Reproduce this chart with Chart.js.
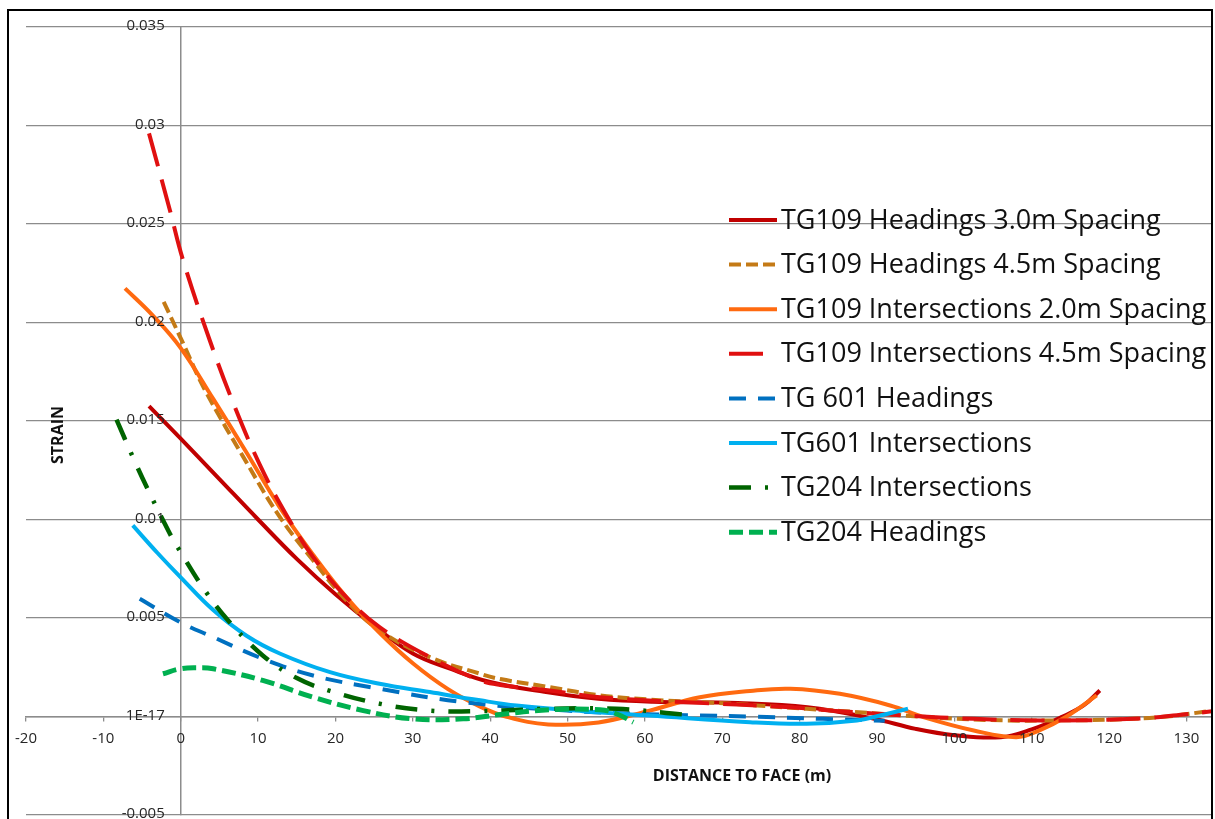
<!DOCTYPE html>
<html>
<head>
<meta charset="utf-8">
<script src="https://cdn.jsdelivr.net/npm/chart.js@4.4.0/dist/chart.umd.min.js"></script>
<style>
  html, body { margin: 0; padding: 0; background: #fff; }
  #wrap { width: 1215px; height: 819px; position: relative; }
</style>
</head>
<body>
<div id="wrap"><canvas id="strainChart" width="1215" height="819"></canvas></div>
<script>
// series
const seriesNames = [
    'TG109 Headings 3.0m Spacing',
    'TG109 Headings 4.5m Spacing',
    'TG109 Intersections 2.0m Spacing',
    'TG109 Intersections 4.5m Spacing',
    'TG 601 Headings',
    'TG601 Intersections',
    'TG204 Intersections',
    'TG204 Headings'
];

const tg109Head30X = [-4.1, 0, 5, 10, 15, 20, 25, 30, 35, 40, 47, 54, 61, 72, 81, 89.5, 95, 100, 106, 110, 114, 116.7, 118.8];
const tg109Head30Y = [0.01575, 0.0141, 0.01205, 0.01, 0.008, 0.0062, 0.0046, 0.0032, 0.0024, 0.00175, 0.00125, 0.0009, 0.00075, 0.00068, 0.00047, -0.0001, -0.00063, -0.00095, -0.00105, -0.00065, 0, 0.00056, 0.00132];

const tg109Head45X = [-2.2, 0.3, 3.1, 8.5, 12.8, 17.1, 21.4, 25.7, 32.2, 38.7, 41.3, 47.7, 54.2, 60.6, 71.4, 80.9, 89.5, 98.1, 106.8, 112.4, 121, 127.5, 133.3];
const tg109Head45Y = [0.02105, 0.01895, 0.0166, 0.0129, 0.01013, 0.00793, 0.00589, 0.00437, 0.00301, 0.00217, 0.0019, 0.00149, 0.00107, 0.00086, 0.00064, 0.00039, 0.00017, -0.00007, -0.0002, -0.0002, -0.00015, 0, 0.0003];

const tg109Int20X = [-7.2, -3.6, 0, 4.2, 8.5, 12.8, 17.1, 21.4, 25.7, 30, 34.5, 38.7, 42, 47.5, 54, 60.6, 67.1, 73.6, 78.8, 85.2, 91.7, 96, 102.5, 108, 111, 114.5, 118.4];
const tg109Int20Y = [0.02173, 0.02035, 0.0187, 0.01612, 0.0134, 0.01062, 0.00822, 0.00606, 0.00425, 0.0027, 0.0014, 0.0005, 0, -0.0004, -0.0003, 0.0003, 0.00098, 0.0013, 0.00141, 0.00115, 0.00056, -0.00003, -0.00071, -0.00105, -0.0007, 0, 0.00107];

const tg109Int45X = [-4.1, -1.4, 0.3, 3.75, 6.8, 10.2, 13.7, 17.1, 21.4, 25.7, 32.2, 38.7, 41.3, 47.7, 54.2, 65, 78.8, 85.2, 93.8, 102.5, 111.1, 123.2, 129.6, 133.3];
const tg109Int45Y = [0.0296, 0.0257, 0.02317, 0.0191, 0.0159, 0.0128, 0.0102, 0.0081, 0.00606, 0.00454, 0.00301, 0.00183, 0.0016, 0.00132, 0.00098, 0.00073, 0.00047, 0.00027, 0.00005, -0.00012, -0.0002, -0.00012, 0.0001, 0.00027];

const tg601HeadX = [-5.3, -0.1, 4.2, 10.6, 17.1, 25.7, 36.5, 49.9, 60, 67.1, 73.6, 83, 91];
const tg601HeadY = [0.00598, 0.00479, 0.00403, 0.00293, 0.00208, 0.00141, 0.00073, 0.0003, 0.00012, 0.00005, 0, -0.00012, -0.00022];

const tg601IntX = [-6.2, -3, -0.1, 4.2, 8.5, 12.8, 19.3, 25.7, 32.2, 38.7, 43.4, 52, 60.6, 73.6, 80.9, 87.4, 90.4, 94];
const tg601IntY = [0.0097, 0.0083, 0.0071, 0.0054, 0.0041, 0.0032, 0.00225, 0.00166, 0.00124, 0.00082, 0.00056, 0.00027, 0.00005, -0.00029, -0.00037, -0.0002, 0.00005, 0.0004];

const tg204IntX = [-8.3, -6.2, -4.4, -1.4, -0.1, 3.3, 6.3, 10.6, 15, 19.3, 25.7, 32.2, 38.7, 47.7, 56.3, 65];
const tg204IntY = [0.01507, 0.01318, 0.01165, 0.00928, 0.0084, 0.0063, 0.0048, 0.0031, 0.00195, 0.0013, 0.00065, 0.0003, 0.00027, 0.00039, 0.00039, 0.0001];

const tg204HeadX = [-2.3, -0.1, 2, 4.2, 10.6, 17.1, 23.6, 30, 36.5, 41.3, 47.7, 54.2, 56.3, 58.5];
const tg204HeadY = [0.00217, 0.00242, 0.00247, 0.00242, 0.00183, 0.00098, 0.0003, -0.00012, -0.00012, 0.0001, 0.00034, 0.00034, 0.00014, -0.00029];

const yTickLabels = ['-0.005', '1E-17', '0.005', '0.01', '0.015', '0.02', '0.025', '0.03', '0.035'];

const seriesX = [tg109Head30X, tg109Head45X, tg109Int20X, tg109Int45X, tg601HeadX, tg601IntX, tg204IntX, tg204HeadX];
const seriesY = [tg109Head30Y, tg109Head45Y, tg109Int20Y, tg109Int45Y, tg601HeadY, tg601IntY, tg204IntY, tg204HeadY];

// styles
const lineColors = ['#C00000', '#C47A16', '#FF6A10', '#E01010', '#0070C0', '#00B0F0', '#006400', '#00B050'];
const lineDashes = [[], [12, 5], [], [34, 14], [17, 12], [], [22, 14, 3, 14], [14, 6]];
const lineWidths = [4, 4, 4, 4, 4, 4, 4.5, 5];

const gridGrey = '#8c8c8c';
const tickFont = '15px "Open Sans"';

const datasets = seriesNames.map((name, i) => ({
    label: name,
    data: seriesX[i].map((x, j) => ({x: x, y: seriesY[i][j]})),
    borderColor: lineColors[i],
    borderDash: lineDashes[i],
    borderWidth: lineWidths[i],
    pointRadius: 0,
    fill: false,
    tension: 0.4,
    order: seriesNames.length - i
}));

const framePlugin = {
    id: 'framePlugin',
    beforeDraw(chart) {
        const c = chart.ctx;
        c.save();
        c.fillStyle = '#fff';
        c.fillRect(0, 0, chart.width, chart.height);
        c.restore();
    },
    afterDraw(chart) {
        const c = chart.ctx;
        const xs = chart.scales.x, ys = chart.scales.y;
        c.save();
        // outer frame
        c.strokeStyle = '#000';
        c.lineWidth = 2;
        c.strokeRect(8, 10, 1204, 830);

        // tick labels next to the crossing axes
        c.fillStyle = '#262626';
        c.font = tickFont;
        c.textBaseline = 'middle';
        c.textAlign = 'right';
        const axisX = xs.getPixelForValue(0);
        ys.ticks.forEach((t, i) => {
            c.fillText(yTickLabels[i], axisX - 16, ys.getPixelForValue(t.value) - 1);
        });
        c.textAlign = 'center';
        const axisY = ys.getPixelForValue(0);
        xs.ticks.forEach(t => {
            c.fillText(String(t.value), xs.getPixelForValue(t.value), axisY + 22);
        });

        // axis titles
        c.fillStyle = '#111';
        c.font = 'bold 16px "Open Sans"';
        c.fillText('DISTANCE TO FACE (m)', 742, 776);
        c.save();
        c.translate(58, 435);
        c.rotate(-Math.PI / 2);
        c.fillText('STRAIN', 0, 0);
        c.restore();

        // legend inside plot
        const left = 729, top = 220, rowGap = 44.6, sampleLen = 48;
        c.textAlign = 'left';
        c.font = '27px "Open Sans"';
        chart.data.datasets.forEach((ds, i) => {
            const y = top + i * rowGap;
            c.beginPath();
            c.strokeStyle = ds.borderColor;
            c.lineWidth = ds.borderWidth;
            c.setLineDash(ds.borderDash);
            c.moveTo(left, y);
            c.lineTo(left + sampleLen, y);
            c.stroke();
            c.setLineDash([]);
            c.fillStyle = '#111';
            c.fillText(ds.label, 781, y + 1);
        });
        c.restore();
    }
};

Chart.defaults.font.family = '"Open Sans", sans-serif';

new Chart(document.getElementById('strainChart'), {
    type: 'line',
    data: {datasets: datasets},
    options: {
        responsive: false,
        animation: false,
        devicePixelRatio: 1,
        layout: {padding: {left: 26, top: 27, right: 3, bottom: 4}},
        scales: {
            x: {
                type: 'linear',
                min: -20,
                max: 133.3,
                position: {y: 0},
                ticks: {stepSize: 10, includeBounds: false, autoSkip: false, maxRotation: 0, display: false},
                grid: {drawOnChartArea: false, drawTicks: true, tickLength: 4, color: gridGrey, lineWidth: 1.3},
                border: {color: gridGrey, width: 1.5}
            },
            y: {
                type: 'linear',
                min: -0.005,
                max: 0.035,
                position: {x: 0},
                ticks: {stepSize: 0.005, display: false},
                grid: {drawTicks: false, color: gridGrey, lineWidth: 1.3},
                border: {color: gridGrey, width: 1.5}
            }
        },
        plugins: {
            legend: {display: false},
            tooltip: {enabled: false}
        }
    },
    plugins: [framePlugin]
});
</script>
</body>
</html>
